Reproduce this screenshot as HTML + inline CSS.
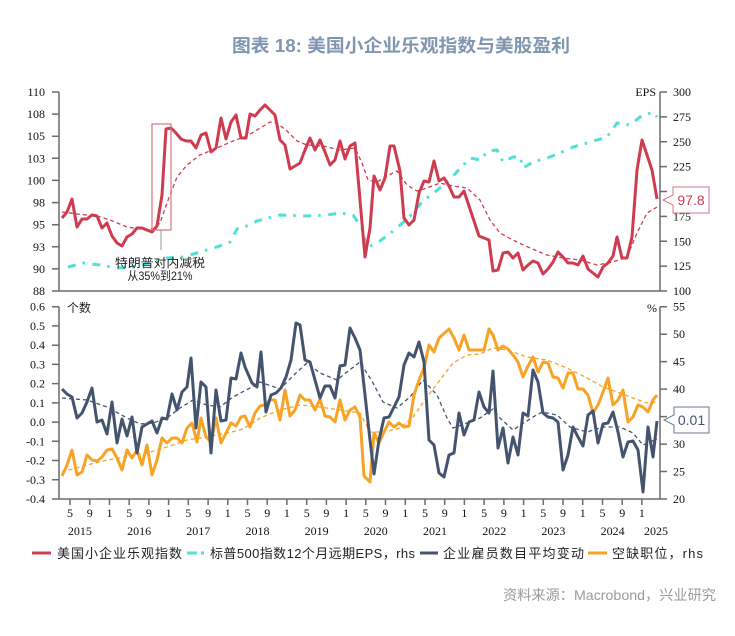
<!DOCTYPE html>
<html><head><meta charset="utf-8"><style>
html,body{margin:0;padding:0;background:#fff;}
svg{display:block;}
.ax{font-family:"Liberation Serif",serif;font-size:12px;fill:#111;}
.cj{font-family:"Liberation Sans","Noto Sans CJK SC",sans-serif;}
</style></head><body>
<svg width="735" height="636" viewBox="0 0 735 636" xmlns="http://www.w3.org/2000/svg">
<rect width="735" height="636" fill="#fff"/>
<text x="401" y="52" text-anchor="middle" class="cj" font-size="18" font-weight="bold" fill="#7f95b0" textLength="338" lengthAdjust="spacingAndGlyphs">图表 18: 美国小企业乐观指数与美股盈利</text>

<!-- TOP CHART AXES -->
<g stroke="#6b6b6b" stroke-width="1.5" fill="none">
<line x1="59" y1="92" x2="59" y2="291"/>
<line x1="660" y1="92" x2="660" y2="291"/>
<line x1="52" y1="291" x2="667" y2="291"/>
<path d="M52 92H59M52 114.1H59M52 136.2H59M52 158.3H59M52 180.4H59M52 202.6H59M52 224.7H59M52 246.8H59M52 268.9H59"/>
<path d="M660 92H667M660 116.9H667M660 141.75H667M660 166.6H667M660 191.5H667M660 216.4H667M660 241.25H667M660 266.1H667"/>
</g>
<g class="ax" text-anchor="end">
<text x="45" y="96">110</text><text x="45" y="118.1">108</text><text x="45" y="140.2">105</text><text x="45" y="162.3">103</text><text x="45" y="184.4">100</text><text x="45" y="206.6">98</text><text x="45" y="228.7">95</text><text x="45" y="250.8">93</text><text x="45" y="272.9">90</text><text x="45" y="295">88</text>
</g>
<g class="ax">
<text x="673" y="96">300</text><text x="673" y="120.9">275</text><text x="673" y="145.75">250</text><text x="673" y="170.6">225</text><text x="673" y="195.5">200</text><text x="673" y="220.4">175</text><text x="673" y="245.25">150</text><text x="673" y="270.1">125</text><text x="673" y="295">100</text>
<text x="656" y="96" text-anchor="end">EPS</text>
</g>

<!-- TOP SERIES -->
<polyline fill="none" stroke="#4fe0d6" stroke-width="3" stroke-dasharray="8 7 2.5 7.5" points="68,267 83,263 100,265 117,268 133,267 150,263 167,258 183,257 200,252 217,247 230,242 237,229 250,225 257,221 280,215 307,216 327,215 340,213 353,215 362,228 367,248 380,241 397,228 410,216 423,201 440,188 453,176 470,158 480,160 488,151 497,150 503,162 513,157 520,157 523,168 533,162 547,158 560,153 573,147 587,143 597,140 607,137 617,123 630,125 640,117 653,112 657,117"/>
<polyline fill="none" stroke="#cf3c4f" stroke-width="1.3" stroke-dasharray="4 3" points="62,212 77,214 97,216 110,220 127,227 140,229 153,229 160,223 167,203 177,177 187,165 200,155 217,148 233,141 247,136 257,130 270,122 277,123 287,131 297,141 307,145 323,146 340,150 355,148 362,163 368,180 377,182 387,176 397,171 407,185 417,191 427,188 440,183 453,186 467,188 480,200 490,220 500,233 513,240 530,248 547,255 563,258 580,260 597,265 613,262 627,257 637,233 647,213 657,207"/>
<polyline fill="none" stroke="#cf3c4f" stroke-width="3" stroke-linejoin="round" points="62,218 67,212 72,199 77,227 82,219 87,219 92,215 97,216 102,228 107,223 112,236 117,243 122,246 127,237 132,234 137,228 142,228 147,230 152,232 157,226 162,195 166,129 171,128 176,133 181,139 186,141 191,141 196,148 201,135 206,133 211,152 216,148 221,118 226,139 231,122 236,115 241,138 246,138 250,114 255,116 260,110 265,105 270,110 275,115 280,140 285,145 290,169 295,166 300,163 305,150 310,138 315,150 320,140 325,152 330,165 335,160 340,141 345,159 350,146 355,143 365,257 370,228 374,176 380,190 385,178 390,146 394,146 400,171 404,218 409,225 414,220 419,193 424,181 429,182 434,161 439,181 444,178 449,186 454,197 459,197 464,191 469,206 474,221 479,236 484,238 489,240 493,271 498,270 503,253 508,252 513,258 518,253 523,270 528,265 533,261 538,263 543,274 548,269 553,262 558,252 563,257 568,263 573,263 578,265 583,256 588,269 593,273 598,277 603,267 608,263 613,256 617,237 622,258 627,258 632,237 637,170 642,140 647,155 652,170 657,199"/>

<!-- annotation -->
<rect x="152" y="124" width="19" height="106" fill="none" stroke="#d9737e" stroke-width="1.2"/>
<line x1="161" y1="230" x2="161" y2="250" stroke="#999" stroke-width="1"/>
<text x="160" y="267" text-anchor="middle" class="cj" font-size="12" fill="#222" textLength="90" lengthAdjust="spacingAndGlyphs">特朗普对内减税</text>
<text x="160" y="280" text-anchor="middle" class="cj" font-size="12" fill="#222" textLength="65" lengthAdjust="spacingAndGlyphs">从35%到21%</text>

<!-- 97.8 label -->
<path d="M673 187H709V213H673V205L663 200L673 195Z" fill="#fff" stroke="#d9737e" stroke-width="1"/>
<text x="691" y="205" text-anchor="middle" font-family="Liberation Sans,sans-serif" font-size="14" fill="#cf3c4f">97.8</text>

<!-- BOTTOM CHART AXES -->
<g stroke="#6b6b6b" stroke-width="1.5" fill="none">
<line x1="59" y1="306.7" x2="59" y2="499"/>
<line x1="660" y1="306.7" x2="660" y2="499"/>
<line x1="52" y1="499" x2="667" y2="499"/>
<path d="M52 306.7H59M52 325.9H59M52 345.2H59M52 364.4H59M52 383.6H59M52 402.9H59M52 422.1H59M52 441.3H59M52 460.5H59M52 479.8H59"/>
<path d="M660 306.7H667M660 334.2H667M660 361.6H667M660 389.1H667M660 416.6H667M660 444.1H667M660 471.5H667"/>
<path d="M70 499V505M89.7 499V505M109.5 499V505M129.2 499V505M148.9 499V505M168.6 499V505M188.3 499V505M208.1 499V505M227.8 499V505M247.5 499V505M267.2 499V505M286.9 499V505M306.7 499V505M326.4 499V505M346.1 499V505M365.8 499V505M385.5 499V505M405.3 499V505M425 499V505M444.7 499V505M464.4 499V505M484.1 499V505M503.9 499V505M523.6 499V505M543.3 499V505M563 499V505M582.7 499V505M602.5 499V505M622.2 499V505M641.9 499V505"/>
</g>
<g class="ax" text-anchor="end">
<text x="45" y="310.7">0.6</text><text x="45" y="329.9">0.5</text><text x="45" y="349.2">0.4</text><text x="45" y="368.4">0.3</text><text x="45" y="387.6">0.2</text><text x="45" y="406.9">0.1</text><text x="45" y="426.1">0.0</text><text x="45" y="445.3">-0.1</text><text x="45" y="464.5">-0.2</text><text x="45" y="483.8">-0.3</text><text x="45" y="503">-0.4</text>
</g>
<g class="ax">
<text x="673" y="310.7">55</text><text x="673" y="338.2">50</text><text x="673" y="365.6">45</text><text x="673" y="393.1">40</text><text x="673" y="420.6">35</text><text x="673" y="448.1">30</text><text x="673" y="475.5">25</text><text x="673" y="503">20</text>
<text x="657" y="312" text-anchor="end">%</text>
</g>
<text x="67" y="312" class="cj" font-size="12" fill="#222">个数</text>
<g class="ax" text-anchor="middle">
<text x="70" y="517">5</text><text x="89.7" y="517">9</text><text x="109.5" y="517">1</text><text x="129.2" y="517">5</text><text x="148.9" y="517">9</text><text x="168.6" y="517">1</text><text x="188.3" y="517">5</text><text x="208.1" y="517">9</text><text x="227.8" y="517">1</text><text x="247.5" y="517">5</text><text x="267.2" y="517">9</text><text x="286.9" y="517">1</text><text x="306.7" y="517">5</text><text x="326.4" y="517">9</text><text x="346.1" y="517">1</text><text x="365.8" y="517">5</text><text x="385.5" y="517">9</text><text x="405.3" y="517">1</text><text x="425" y="517">5</text><text x="444.7" y="517">9</text><text x="464.4" y="517">1</text><text x="484.1" y="517">5</text><text x="503.9" y="517">9</text><text x="523.6" y="517">1</text><text x="543.3" y="517">5</text><text x="563" y="517">9</text><text x="582.7" y="517">1</text><text x="602.5" y="517">5</text><text x="622.2" y="517">9</text><text x="641.9" y="517">1</text>
<text x="79.9" y="535">2015</text><text x="139.1" y="535">2016</text><text x="198.3" y="535">2017</text><text x="257.5" y="535">2018</text><text x="316.6" y="535">2019</text><text x="375.8" y="535">2020</text><text x="435" y="535">2021</text><text x="494.2" y="535">2022</text><text x="553.4" y="535">2023</text><text x="612.6" y="535">2024</text><text x="656" y="535">2025</text>
</g>

<!-- BOTTOM SERIES -->
<polyline fill="none" stroke="#44546e" stroke-width="1.3" stroke-dasharray="4 3" points="62,398 87,400 107,407 127,418 140,424 153,423 167,418 180,408 193,400 207,405 220,407 233,397 250,388 260,382 280,389 297,372 307,363 320,373 337,380 347,372 360,362 373,383 383,402 397,408 410,397 423,380 437,395 447,418 453,428 467,423 480,418 493,409 500,418 513,430 533,417 542,412 557,415 570,427 587,432 603,427 620,427 633,433 643,445 657,439"/>
<polyline fill="none" stroke="#f7a325" stroke-width="1.3" stroke-dasharray="4 3" points="62,472 87,465 107,460 127,457 147,453 167,447 187,440 207,437 227,433 240,430 250,425 260,418 280,410 300,405 320,407 340,410 360,413 370,432 383,432 400,428 413,417 427,397 440,380 453,363 467,355 480,354 493,348 507,350 527,357 547,360 567,368 587,378 603,387 620,393 633,398 647,403 657,402"/>
<polyline fill="none" stroke="#f7a325" stroke-width="3" stroke-linejoin="round" points="62,476 67,465 72,450 77,475 82,472 87,455 92,460 97,461 102,457 107,450 112,449 117,458 122,470 127,450 132,458 137,450 142,465 147,445 152,475 157,460 162,438 167,443 172,438 177,438 182,443 187,428 192,423 197,442 201,418 206,437 211,442 216,418 221,443 226,433 231,423 236,426 241,417 245,416 250,427 255,413 260,406 265,405 270,400 275,400 280,420 285,390 290,416 295,410 300,395 305,400 310,400 315,410 320,399 325,416 330,417 335,422 340,400 345,420 350,410 355,407 360,417 364,476 370,482 374,433 379,443 384,432 389,422 394,427 399,423 404,427 409,426 414,395 419,380 424,368 429,345 434,352 439,338 449,329 454,338 459,350 464,335 469,350 484,350 489,329 493,335 498,350 503,346 508,349 513,355 518,362 523,377 528,366 533,357 538,372 543,362 548,363 553,377 558,378 563,388 568,373 573,373 578,389 583,389 588,395 593,413 598,405 603,392 608,378 613,405 618,400 623,390 628,422 633,417 638,405 643,407 648,412 653,400 657,395"/>
<polyline fill="none" stroke="#44546e" stroke-width="3" stroke-linejoin="round" points="62,389 67,394 72,397 77,418 82,413 87,402 92,388 97,422 102,420 107,434 112,402 117,443 122,419 127,436 132,417 137,453 142,427 147,424 152,421 157,433 162,418 167,419 172,394 177,410 182,392 187,387 191,358 196,428 201,382 206,387 211,453 216,390 221,421 226,420 231,378 236,379 241,353 245,367 252,383 257,387 261,352 266,412 271,395 276,393 281,388 286,377 291,360 296,323 300,325 305,360 310,362 315,380 320,398 325,386 330,386 335,398 340,366 345,365 350,328 355,338 360,350 370,440 374,474 379,440 384,418 389,417 394,407 399,397 404,365 409,353 414,357 419,342 424,362 429,440 434,445 439,473 444,477 449,455 454,453 459,413 464,435 469,422 474,420 479,392 484,407 489,413 493,371 498,448 503,428 508,463 513,437 518,455 523,413 528,416 533,370 538,382 543,413 548,417 553,418 558,422 563,470 568,455 573,427 578,437 583,446 588,415 593,411 598,443 603,424 608,423 613,412 618,432 623,457 628,442 633,441 638,450 643,492 648,427 653,457 657,421"/>

<!-- 0.01 label -->
<path d="M674 407H709V433H674V425L664 420L674 415Z" fill="#fff" stroke="#6a7890" stroke-width="1"/>
<text x="691.5" y="425" text-anchor="middle" font-family="Liberation Sans,sans-serif" font-size="14" fill="#44546e">0.01</text>

<!-- LEGEND -->
<line x1="32" y1="553" x2="51" y2="553" stroke="#cf3c4f" stroke-width="3"/>
<text x="57" y="558" class="cj" font-size="13" fill="#222" textLength="125" lengthAdjust="spacing">美国小企业乐观指数</text>
<line x1="187" y1="553" x2="197" y2="553" stroke="#4fe0d6" stroke-width="3"/>
<line x1="201" y1="553" x2="204" y2="553" stroke="#4fe0d6" stroke-width="3"/>
<text x="210" y="558" class="cj" font-size="13" fill="#222" textLength="205" lengthAdjust="spacing">标普500指数12个月远期EPS，rhs</text>
<line x1="420" y1="553" x2="438" y2="553" stroke="#44546e" stroke-width="3"/>
<text x="443" y="558" class="cj" font-size="13" fill="#222" textLength="141" lengthAdjust="spacing">企业雇员数目平均变动</text>
<line x1="588" y1="553" x2="607" y2="553" stroke="#f7a325" stroke-width="3"/>
<text x="612" y="558" class="cj" font-size="13" fill="#222" textLength="91" lengthAdjust="spacing">空缺职位，rhs</text>

<text x="503" y="600" class="cj" font-size="14" fill="#9a9a9a" textLength="213" lengthAdjust="spacingAndGlyphs">资料来源：Macrobond，兴业研究</text>
</svg>
</body></html>
